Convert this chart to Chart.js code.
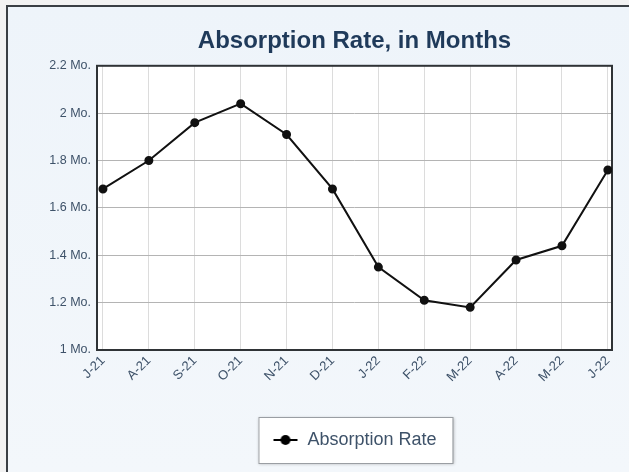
<!DOCTYPE html>
<html>
<head>
<meta charset="utf-8">
<script src="https://cdn.jsdelivr.net/npm/chart.js@4.4.0/dist/chart.umd.min.js"></script>
<style>
  html, body { margin: 0; padding: 0; background: #f2f2f2; }
  #frame {
    position: absolute; left: 6px; top: 5px; width: 623px; height: 467px;
    border-left: 2px solid #3a3f44; border-top: 2px solid #3a3f44;
    background: linear-gradient(#eef4fa, #f3f7fb);
    box-sizing: border-box;
  }
  #wrap { position: absolute; left: 0; top: 0; width: 621px; height: 465px; }
</style>
</head>
<body>
<div id="frame"><div id="wrap"><canvas id="chart"></canvas></div></div>
<script>
// données
const months = ['J-21', 'A-21', 'S-21', 'O-21', 'N-21', 'D-21', 'J-22', 'F-22', 'M-22', 'A-22', 'M-22', 'J-22'];
const absorption = [1.68, 1.80, 1.96, 2.04, 1.91, 1.68, 1.35, 1.21, 1.18, 1.38, 1.44, 1.76];
const yTicks = [1, 1.2, 1.4, 1.6, 1.8, 2, 2.2];

const textColor = '#3e5269';

// petit symbole ligne + point pour la légende
function legendMarker() {
    const c = document.createElement('canvas');
    c.width = 26; c.height = 12;
    const g = c.getContext('2d');
    g.strokeStyle = '#000'; g.lineWidth = 2;
    g.beginPath(); g.moveTo(1, 6); g.lineTo(25, 6); g.stroke();
    g.fillStyle = '#000';
    g.beginPath(); g.arc(13, 6, 5, 0, Math.PI * 2); g.fill();
    return c;
}

// cadre du graphique et boîte de la légende
const framePlugin = {
    id: 'frames',
    beforeDatasetsDraw(chart) {
        const a = chart.chartArea, ctx = chart.ctx;
        ctx.save();
        ctx.strokeStyle = '#2f3336';
        ctx.lineWidth = 2;
        ctx.strokeRect(a.left, a.top, a.right - a.left, a.bottom - a.top);
        ctx.restore();
    },
    beforeDraw(chart) {
        const a = chart.chartArea, ctx = chart.ctx;
        ctx.save();
        ctx.fillStyle = '#ffffff';
        ctx.fillRect(a.left, a.top, a.right - a.left, a.bottom - a.top);
        const h = chart.legend.legendHitBoxes[0];
        if (h) {
            const x = h.left - 14, y = h.top - 14, w = h.width + 30, hh = h.height + 28;
            ctx.shadowColor = 'rgba(0,0,0,0.25)';
            ctx.shadowBlur = 3; ctx.shadowOffsetX = 1; ctx.shadowOffsetY = 1;
            ctx.fillStyle = '#ffffff';
            ctx.fillRect(x, y, w, hh);
            ctx.shadowColor = 'transparent';
            ctx.strokeStyle = '#9a9ea3';
            ctx.lineWidth = 1;
            ctx.strokeRect(x + 0.5, y + 0.5, w, hh);
        }
        ctx.restore();
    }
};

new Chart(document.getElementById('chart'), {
    type: 'line',
    data: {
        datasets: [{
            label: 'Absorption Rate',
            data: absorption.map((v, i) => ({ x: i, y: v })),
            borderColor: '#111111',
            backgroundColor: '#111111',
            borderWidth: 2,
            pointRadius: 3.5,
            pointBackgroundColor: '#111111',
            tension: 0
        }]
    },
    options: {
        responsive: true,
        maintainAspectRatio: false,
        animation: false,
        layout: { padding: { left: 0, right: 17, top: 0, bottom: 13 } },
        plugins: {
            title: {
                display: true,
                fullSize: false,
                text: 'Absorption Rate, in Months',
                color: '#1f3a5a',
                font: { family: 'Liberation Sans', size: 24, weight: 'bold' },
                padding: { top: 20, bottom: 10 }
            },
            legend: {
                position: 'bottom',
                fullSize: false,
                labels: {
                    color: textColor,
                    font: { family: 'Liberation Sans', size: 18 },
                    usePointStyle: true,
                    pointStyleWidth: 26,
                    generateLabels: chart => [{
                        text: 'Absorption Rate',
                        pointStyle: legendMarker(),
                        fontColor: textColor,
                        datasetIndex: 0
                    }],
                    padding: 12
                }
            },
            tooltip: { enabled: false }
        },
        scales: {
            x: {
                type: 'linear',
                min: -0.13,
                max: 11.09,
                afterBuildTicks: scale => { scale.ticks = months.map((_, i) => ({ value: i })); },
                afterFit: scale => { scale.height = 69; },
                ticks: {
                    autoSkip: false,
                    maxRotation: 45,
                    minRotation: 45,
                    color: textColor,
                    font: { family: 'Liberation Sans', size: 13 },
                    callback: v => months[v]
                },
                grid: { color: '#dcdcdc', drawTicks: false },
                border: { display: false }
            },
            y: {
                min: 1,
                max: 2.2,
                afterBuildTicks: scale => { scale.ticks = yTicks.map(v => ({ value: v })); },
                afterFit: scale => { scale.width = 89; },
                ticks: {
                    color: textColor,
                    padding: 6,
                    font: { family: 'Liberation Sans', size: 12.5 },
                    callback: v => `${+v.toFixed(1)} Mo.`
                },
                grid: { color: '#b4b4b4', drawTicks: false },
                border: { display: false }
            }
        }
    },
    plugins: [framePlugin]
});
</script>
</body>
</html>
